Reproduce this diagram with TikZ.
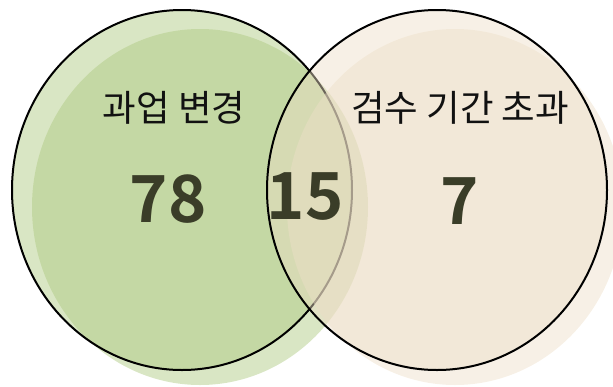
\documentclass[tikz,border=0pt]{standalone}
\usepackage{fontspec}
\setmainfont{Noto Sans CJK KR}
\newfontfamily\krbold{Noto Sans CJK KR Bold}
\definecolor{greenbase}{RGB}{171,199,124}
\definecolor{beigebase}{RGB}{237,222,199}
\definecolor{numcol}{RGB}{58,61,40}
\definecolor{labcol}{RGB}{17,17,17}
\tikzset{
  setfillA/.style={fill=greenbase, fill opacity=0.45},
  setfillB/.style={fill=beigebase, fill opacity=0.45},
  setline/.style={draw=black, line width=2pt},
  setlabel/.style={font=\fontsize{36.5}{42}\selectfont, text=labcol, inner sep=0pt},
  setnum/.style={font=\krbold\fontsize{65}{70}\selectfont, text=numcol, inner sep=0pt},
}
\begin{document}
\begin{tikzpicture}[x=1pt,y=-1pt]
\useasboundingbox (0,0) rectangle (613,386);
\clip (0,0) rectangle (613,386);
% left set
\path[setfillA] (182,190) ellipse [x radius=170pt, y radius=180pt];
\path[setfillA] (200,207) ellipse [x radius=168pt, y radius=178pt];
\draw[setline] (182,190) ellipse [x radius=170pt, y radius=180pt];
% right set
\path[setfillB] (437,190) ellipse [x radius=170pt, y radius=180pt];
\path[setfillB] (455,207) ellipse [x radius=168pt, y radius=178pt];
\draw[setline] (437,190) ellipse [x radius=170pt, y radius=180pt];
% texts
\node[setlabel] (labA) at (174,108) {과업 변경};
\node[setlabel] (labB) at (460,108) {검수 기간 초과};
\node[setnum] (numA) at (168,199) {78};
\node[setnum] (numAB) at (305,197) {15};
\node[setnum] (numB) at (460,201) {7};
\end{tikzpicture}
\end{document}
